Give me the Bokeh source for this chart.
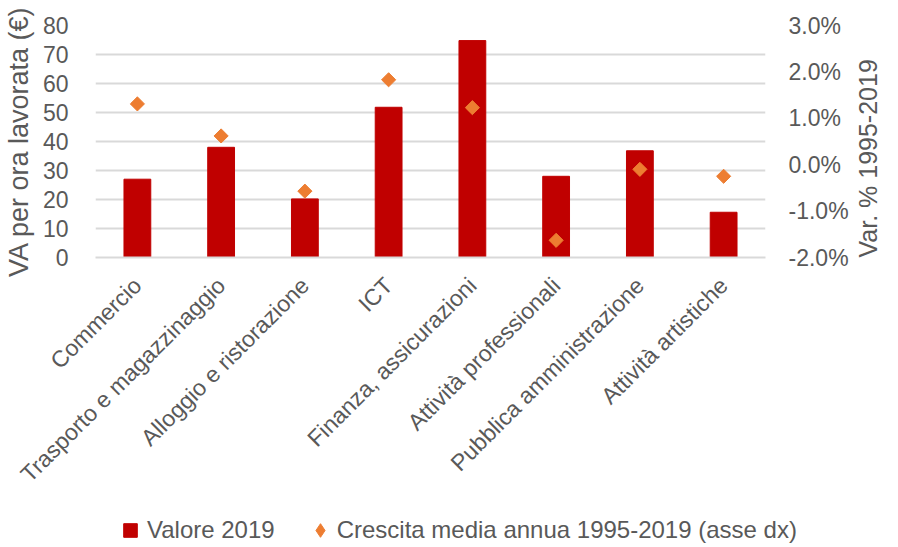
import numpy as np
from bokeh.plotting import figure
from bokeh.layouts import column
from bokeh.models import (ColumnDataSource, FactorRange, Range1d, LinearAxis, FixedTicker,
                          PrintfTickFormatter, Legend, LegendItem)
from bokeh.embed import file_html
from bokeh.resources import INLINE

categories = ["Commercio", "Trasporto e magazzinaggio", "Alloggio e ristorazione", "ICT",
              "Finanza, assicurazioni", "Attività professionali", "Pubblica amministrazione",
              "Attività artistiche"]
valore_2019 = [27.0, 38.0, 20.2, 51.8, 74.8, 28.0, 36.8, 15.6]
crescita_pct = [1.31, 0.62, -0.57, 1.83, 1.23, -1.63, -0.10, -0.25]
left_ticks = [0, 10, 20, 30, 40, 50, 60, 70, 80]
right_ticks = [-2, -1, 0, 1, 2, 3]
series_names = ["Valore 2019", "Crescita media annua 1995-2019 (asse dx)"]

FONT = "Liberation Sans"
GREY = "#595959"
RED = "#C00000"
ORANGE = "#ED7D31"

src = ColumnDataSource(dict(cat=categories, val=valore_2019, cr=crescita_pct))

p = figure(width=898, height=500, x_range=FactorRange(*categories, range_padding=0),
           y_range=Range1d(0, 80), output_backend="svg", toolbar_location=None,
           min_border_left=94, min_border_right=118, min_border_top=25, min_border_bottom=243)
p.frame_align = False
p.outline_line_color = None
p.background_fill_color = "white"
p.border_fill_color = "white"

p.extra_y_ranges = {"pct": Range1d(-2, 3)}

p.vbar(x="cat", top="val", width=0.32, source=src, fill_color=RED, line_color=RED)
p.scatter(x="cat", y="cr", source=src, y_range_name="pct", marker="square",
          angle=np.pi / 4, size=10, fill_color=ORANGE, line_color=ORANGE)

# left axis
ya = p.yaxis[0]
ya.ticker = FixedTicker(ticks=left_ticks)
ya.axis_label = "VA per ora lavorata (€)"
ya.axis_line_color = None
ya.major_tick_line_color = None
ya.minor_tick_line_color = None
ya.major_label_text_font = FONT
ya.major_label_text_font_size = "23px"
ya.major_label_text_color = GREY
ya.major_label_standoff = 21
ya.axis_label_text_font = FONT
ya.axis_label_text_font_size = "27px"
ya.axis_label_text_font_style = "normal"
ya.axis_label_text_color = GREY
ya.axis_label_standoff = 6

ra = LinearAxis(y_range_name="pct", ticker=FixedTicker(ticks=right_ticks),
                formatter=PrintfTickFormatter(format="%.1f%%"))
ra.axis_label = "Var. % 1995-2019"
ra.axis_label_orientation = np.pi / 2
ra.axis_label_align = "start"
ra.axis_line_color = None
ra.major_tick_line_color = None
ra.minor_tick_line_color = None
ra.major_label_text_font = FONT
ra.major_label_text_font_size = "23px"
ra.major_label_text_color = GREY
ra.major_label_standoff = 17
ra.axis_label_text_font = FONT
ra.axis_label_text_font_size = "25px"
ra.axis_label_text_font_style = "normal"
ra.axis_label_text_color = GREY
ra.axis_label_standoff = 16
p.add_layout(ra, "right")

xa = p.xaxis[0]
xa.axis_line_color = "#D9D9D9"
xa.axis_line_width = 2
xa.major_tick_line_color = None
xa.minor_tick_line_color = None
xa.major_label_orientation = np.pi / 4
xa.major_label_text_font = FONT
xa.major_label_text_font_size = "23px"
xa.major_label_text_color = GREY
xa.major_label_standoff = 18

p.xgrid.grid_line_color = None
p.ygrid.ticker = FixedTicker(ticks=left_ticks)
p.ygrid.grid_line_color = "#D9D9D9"
p.ygrid.grid_line_width = 2

# legend strip (separate figure so the legend is not clipped by the chart frame)
lg = figure(width=898, height=47, x_range=Range1d(0, 898), y_range=Range1d(0, 47),
            output_backend="svg", toolbar_location=None, min_border=0)
lg.frame_align = False
lg.axis.visible = False
lg.grid.visible = False
lg.outline_line_color = None
lg.background_fill_color = "white"
lg.border_fill_color = "white"
# off-range proxies, only used to draw the legend swatches
r_bar = lg.scatter(x=[-1000], y=[-1000], marker="square", size=10,
                   fill_color=RED, line_color=RED)
r_pt = lg.scatter(x=[-1000], y=[-1000], marker="diamond", size=10,
                  fill_color=ORANGE, line_color=ORANGE)
legend = Legend(items=[LegendItem(label=series_names[0], renderers=[r_bar]),
                       LegendItem(label=series_names[1], renderers=[r_pt])],
                orientation="horizontal", location=(113, 0), padding=0, margin=0,
                spacing=28, glyph_width=34, glyph_height=34, label_standoff=0,
                label_text_font=FONT, label_text_font_size="24px", label_text_color=GREY,
                border_line_color=None, background_fill_alpha=0)
lg.add_layout(legend, "center")

layout = column(p, lg, spacing=0)
open("out.html", "w").write(file_html(layout, INLINE))
